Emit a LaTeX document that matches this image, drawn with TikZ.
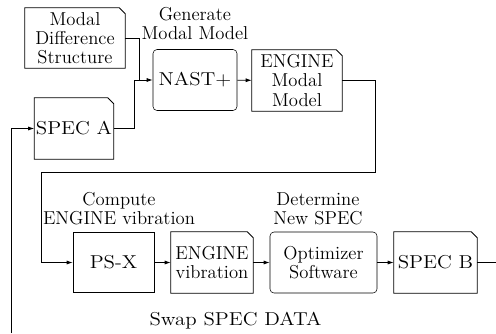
\documentclass[tikz,border=0pt]{standalone}
\usepackage{fontspec}
\newfontfamily\widefont[FakeStretch=1.12]{Latin Modern Roman}
\usetikzlibrary{arrows.meta}
\begin{document}
\begin{tikzpicture}[x=0.75pt,y=-0.75pt,
  every node/.style={font=\fontsize{14}{14.3}\selectfont, inner sep=0pt, align=center},
  wide/.style={font=\widefont\fontsize{14}{14.3}\selectfont},
  docbox/.style={minimum height=61*0.75pt},
  roundbox/.style={draw, rounded corners=3pt, minimum height=61*0.75pt},
  plainbox/.style={draw, minimum height=60*0.75pt},
  line/.style={line width=0.6pt},
  arr/.style={line, -{Latex[length=4.5pt,width=3pt]}},
  lbl/.style={}]
\useasboundingbox (0,0) rectangle (496,333);
% nodes
\node[docbox, minimum width=100*0.75pt, minimum height=60*0.75pt] (mds) at (75,38) {Modal\\Difference\\Structure};
\node[docbox, wide, minimum width=79*0.75pt] (specA) at (74,128.5) {SPEC A};
\node[roundbox, wide, minimum width=84*0.75pt] (nast) at (195,80) {NAST+};
\node[docbox, minimum width=90*0.75pt] (emm) at (297,80.5) {ENGINE\\Modal\\Model};
\node[plainbox, wide, minimum width=81*0.75pt] (psx) at (113.5,262.5) {PS-X};
\node[docbox, minimum width=82*0.75pt] (ev) at (212,262.5) {ENGINE\\vibration};
\node[roundbox, minimum width=107*0.75pt] (opt) at (323.5,262.5) {Optimizer\\Software};
\node[docbox, wide, minimum width=83*0.75pt] (specB) at (435.5,262.5) {SPEC B};
% labels
\node[lbl] (lgen) at (195,23.5) {Generate\\Modal Model};
\node[lbl] (lcomp) at (119,208.5) {Compute\\ENGINE vibration};
\node[lbl] (ldet) at (318,208.5) {Determine\\New SPEC};
\node[lbl, font=\widefont\fontsize{14}{14.3}\selectfont] (lswap) at (235.5,321) {Swap SPEC DATA};
% document outlines with cut corner
\foreach \n in {mds,specA,emm,ev,specB}
  \draw[line] (\n.south west) -- (\n.north west) -- ([xshift=-4.5pt]\n.north east)
    -- ([yshift=-4.5pt]\n.north east) -- (\n.south east) -- cycle;
% coordinates
\coordinate (j1) at (134,80);
\coordinate (j2) at (139,80);
\coordinate (r1) at (375,80.5);
\coordinate (r2) at (375,172);
\coordinate (r3) at (41,172);
\coordinate (r4) at (41,262.5);
\coordinate (bOut) at (496,262.5);
\coordinate (lIn) at (11,333);
\coordinate (lTop) at (11,128.5);
% connectors
\draw[line] (mds.east) -| (j2);
\draw[line] (specA.east) -| (j1);
\draw[arr] (j1) -- (nast.west);
\draw[arr] (nast) -- (emm);
\draw[arr] (emm.east) -- (r1) -- (r2) -- (r3) -- (r4) -- (psx.west);
\draw[arr] (psx) -- (ev);
\draw[arr] (ev) -- (opt);
\draw[arr] (opt) -- (specB);
\draw[line] (specB.east) -- (bOut);
\draw[arr] (lIn) -- (lTop) -- (specA.west);
\end{tikzpicture}
\end{document}
